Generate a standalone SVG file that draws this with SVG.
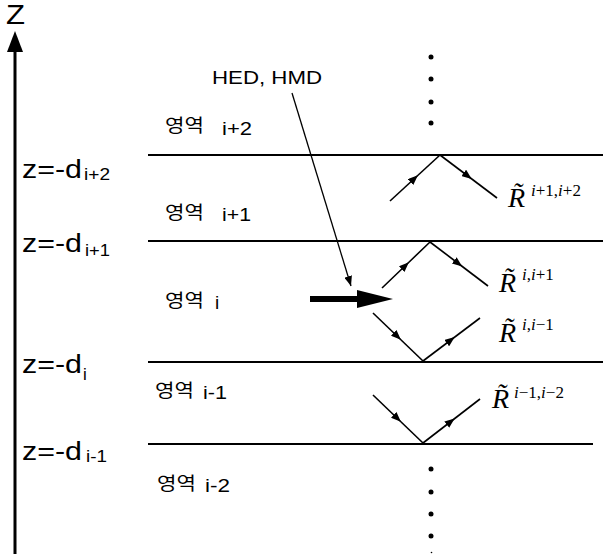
<svg xmlns="http://www.w3.org/2000/svg" width="603" height="554" viewBox="0 0 603 554">
<style>
.sans{font-family:"Liberation Sans",Arial,sans-serif;fill:#000}
.kr{font-family:"Noto Sans CJK KR","Liberation Sans",sans-serif;fill:#000;font-size:18px}
.kl{font-family:"Liberation Sans",Arial,sans-serif;font-size:19px;fill:#000}
.ser{font-family:"Liberation Serif","Times New Roman",serif;fill:#000}
.it{font-style:italic}
.bnd{stroke:#000;stroke-width:1.8;fill:none}
.ray{stroke:#000;stroke-width:1.6;fill:none;marker-mid:url(#mid)}
.dot{fill:#000}
</style>
<defs>
<marker id="mid" viewBox="0 0 10 8" refX="6" refY="4" markerWidth="10" markerHeight="8" markerUnits="userSpaceOnUse" orient="auto">
<path d="M0,0 L10,4 L0,8 Z" fill="#000"/>
</marker>
<marker id="tip" viewBox="0 0 10 8" refX="10" refY="4" markerWidth="10" markerHeight="8" markerUnits="userSpaceOnUse" orient="auto">
<path d="M0,0 L10,4 L0,8 Z" fill="#000"/>
</marker>
</defs>

<g id="axis">
<line x1="15" y1="48" x2="15" y2="554" stroke="#000" stroke-width="3"/>
<polygon points="15,31 7,52 23,52" fill="#000"/>
<text class="sans" x="6" y="24" font-size="27" textLength="19" lengthAdjust="spacingAndGlyphs">Z</text>
</g>

<g id="boundaries">
<line class="bnd" x1="148" y1="155" x2="603" y2="155"/>
<line class="bnd" x1="148" y1="241" x2="603" y2="241"/>
<line class="bnd" x1="148" y1="362" x2="603" y2="362"/>
<line class="bnd" x1="148" y1="444" x2="593" y2="444"/>
</g>

<g id="depth-labels">
<text class="sans" x="22" y="178" font-size="26" textLength="60" lengthAdjust="spacingAndGlyphs">z=-d</text>
<text class="sans" x="84" y="180" font-size="17" textLength="26" lengthAdjust="spacingAndGlyphs">i+2</text>
<text class="sans" x="22" y="252" font-size="26" textLength="60" lengthAdjust="spacingAndGlyphs">z=-d</text>
<text class="sans" x="85" y="256" font-size="17" textLength="25" lengthAdjust="spacingAndGlyphs">i+1</text>
<text class="sans" x="22" y="373" font-size="26" textLength="60" lengthAdjust="spacingAndGlyphs">z=-d</text>
<text class="sans" x="83" y="380" font-size="17">i</text>
<text class="sans" x="22" y="460" font-size="26" textLength="60" lengthAdjust="spacingAndGlyphs">z=-d</text>
<text class="sans" x="86" y="462" font-size="17" textLength="21" lengthAdjust="spacingAndGlyphs">i-1</text>
</g>

<g id="region-labels">
<g id="region-i2">
<text class="kr" x="165" y="132" textLength="39" lengthAdjust="spacingAndGlyphs">영역</text>
<text class="kl" x="222" y="135" textLength="30" lengthAdjust="spacingAndGlyphs">i+2</text>
</g>
<g id="region-i1">
<text class="kr" x="165" y="219" textLength="39" lengthAdjust="spacingAndGlyphs">영역</text>
<text class="kl" x="222" y="221" textLength="29" lengthAdjust="spacingAndGlyphs">i+1</text>
</g>
<g id="region-i">
<text class="kr" x="165" y="307" textLength="39" lengthAdjust="spacingAndGlyphs">영역</text>
<text class="kl" x="215" y="309">i</text>
</g>
<g id="region-im1">
<text class="kr" x="155" y="397" textLength="39" lengthAdjust="spacingAndGlyphs">영역</text>
<text class="kl" x="203" y="399" textLength="24" lengthAdjust="spacingAndGlyphs">i-1</text>
</g>
<g id="region-im2">
<text class="kr" x="157" y="490" textLength="39" lengthAdjust="spacingAndGlyphs">영역</text>
<text class="kl" x="205" y="492" textLength="25" lengthAdjust="spacingAndGlyphs">i-2</text>
</g>
</g>

<g id="source">
<text class="sans" x="212" y="84" font-size="18" textLength="110" lengthAdjust="spacingAndGlyphs">HED, HMD</text>
<line x1="292" y1="93" x2="351" y2="286" stroke="#000" stroke-width="1.3" marker-end="url(#tip)"/>
<polygon points="310,296 357,296 357,290 393,299 357,308 357,302 310,302" fill="#000"/>
</g>

<g id="connectors">
<path class="ray" d="M390,201 L415,178 L440,155"/>
<path class="ray" d="M440,155 L468.5,176.5 L497,198"/>
<path class="ray" d="M382,288 L406,265 L430,242"/>
<path class="ray" d="M430,242 L459,264 L488,286"/>
<path class="ray" d="M373,313 L398,337 L423,361"/>
<path class="ray" d="M423,361 L451.5,339.5 L480,318"/>
<path class="ray" d="M373,395 L398,419 L423,443"/>
<path class="ray" d="M423,443 L451.5,421 L480,399"/>
</g>

<g id="coefficients">
<text class="ser it" x="508" y="207" font-size="28">R&#771;</text>
<text class="ser" x="531" y="196" font-size="17"><tspan class="it">i</tspan>+1,<tspan class="it">i</tspan>+2</text>
<text class="ser it" x="499" y="292" font-size="28">R&#771;</text>
<text class="ser" x="522" y="280" font-size="17"><tspan class="it">i</tspan>,<tspan class="it">i</tspan>+1</text>
<text class="ser it" x="499" y="342" font-size="28">R&#771;</text>
<text class="ser" x="522" y="330" font-size="17"><tspan class="it">i</tspan>,<tspan class="it">i</tspan>−1</text>
<text class="ser it" x="492" y="408" font-size="28">R&#771;</text>
<text class="ser" x="514" y="398" font-size="17"><tspan class="it">i</tspan>−1,<tspan class="it">i</tspan>−2</text>
</g>

<g id="dots">
<circle class="dot" cx="431" cy="57" r="2.5"/>
<circle class="dot" cx="431" cy="79" r="2.5"/>
<circle class="dot" cx="431" cy="102" r="2.5"/>
<circle class="dot" cx="431" cy="123" r="2.5"/>
<circle class="dot" cx="431" cy="469" r="2.5"/>
<circle class="dot" cx="431" cy="492" r="2.5"/>
<circle class="dot" cx="431" cy="514" r="2.5"/>
<circle class="dot" cx="431" cy="536" r="2.5"/>
<circle class="dot" cx="431.5" cy="552.5" r="0.8"/>
</g>
</svg>
